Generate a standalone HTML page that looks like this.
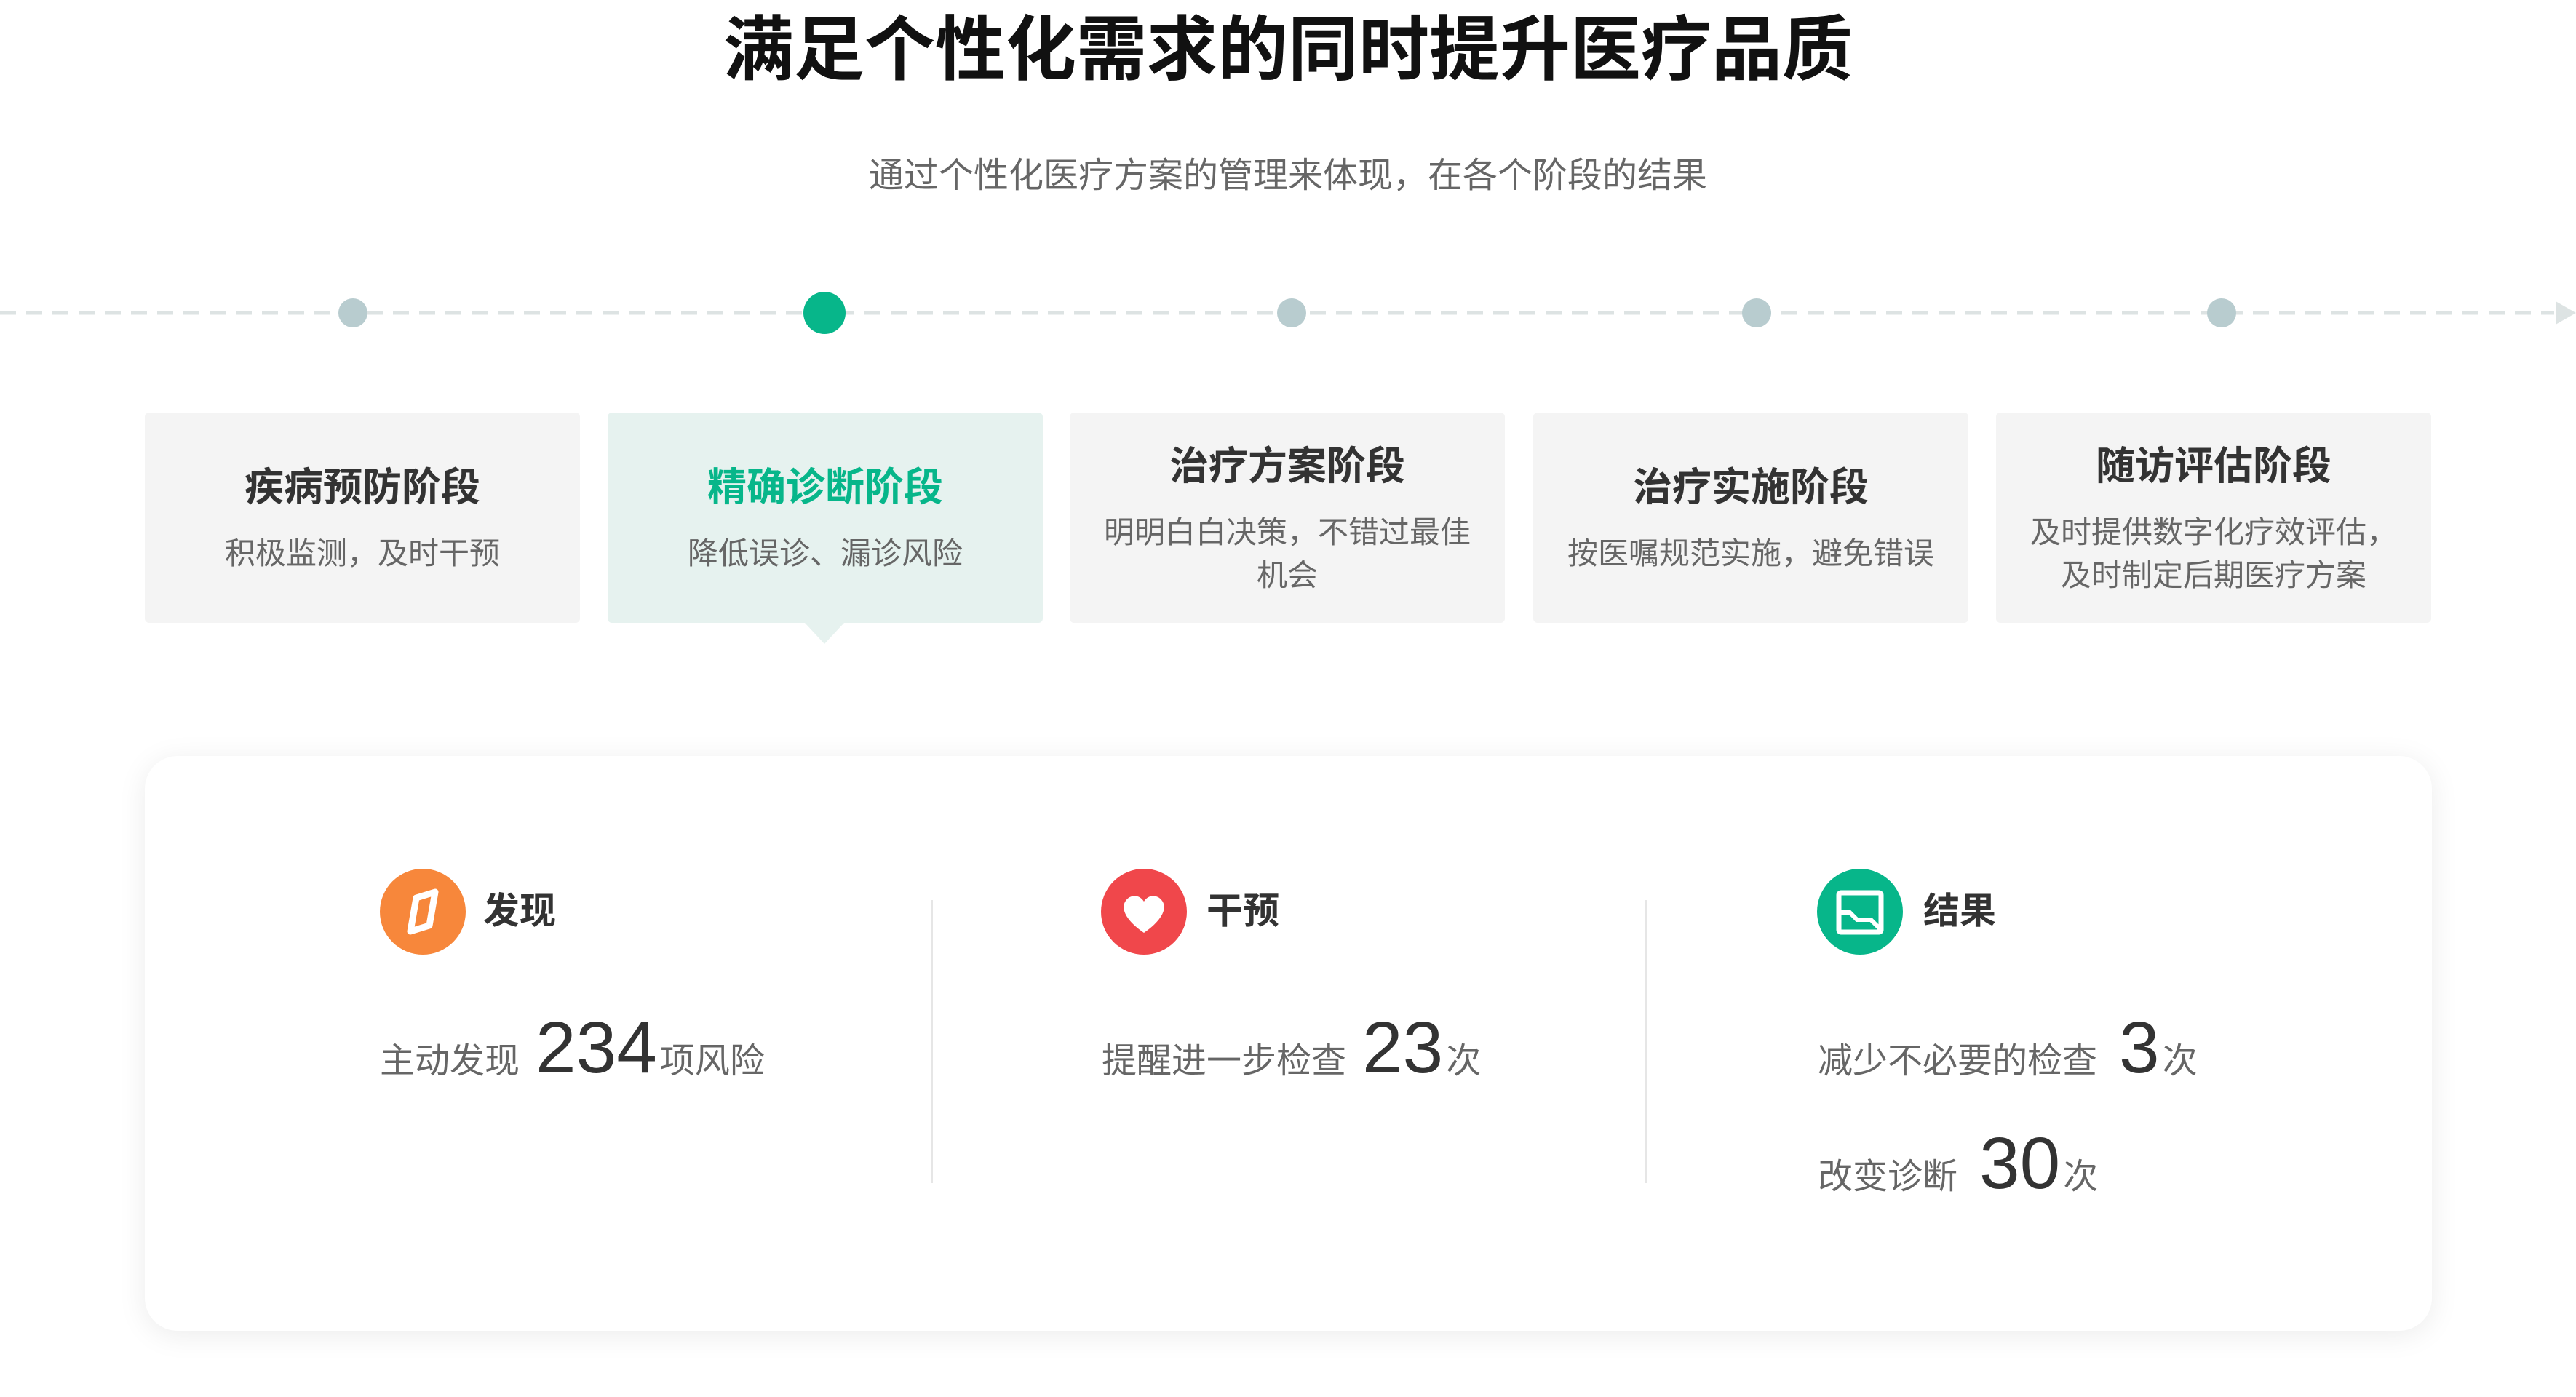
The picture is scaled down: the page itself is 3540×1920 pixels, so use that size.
<!DOCTYPE html>
<html><head><meta charset="utf-8"><style>
*{margin:0;padding:0;box-sizing:border-box}
body{width:3540px;height:1920px;background:#fff;position:relative;overflow:hidden;font-family:"Liberation Sans","Noto Sans CJK SC",sans-serif}
.a{position:absolute}
.title{left:0;width:3540px;top:14px;text-align:center;font-size:97px;font-weight:bold;color:#111;line-height:110px}
.sub{left:0;width:3540px;top:210px;text-align:center;font-size:48px;color:#666;line-height:64px}
.dot{width:40px;height:40px;border-radius:50%;background:#b8cccf;top:410px}
.card{top:567px;width:598px;height:289px;background:#f4f4f4;border-radius:6px;text-align:center}
.card h3{font-size:54px;color:#333;font-weight:bold;line-height:60px}
.card p{font-size:42px;color:#666;line-height:59px;margin-top:31px}
.panel{left:199px;top:1039px;width:3143px;height:790px;background:#fff;border-radius:45px;box-shadow:0 6px 40px rgba(0,0,0,0.08)}
.ic{width:118px;height:118px;border-radius:50%;top:1194px}
.lab{top:1222px;font-size:50px;font-weight:bold;color:#333;line-height:60px}
.div{top:1237px;width:3px;height:389px;background:#e6e6e6}
.stat{display:flex;align-items:baseline;color:#666;font-size:48px;white-space:nowrap}
.stat b{font-size:100px;color:#333;font-weight:normal;margin:0 4px 0 22px;line-height:100px}
</style></head><body>
<div class="a title">满足个性化需求的同时提升医疗品质</div>
<div class="a sub">通过个性化医疗方案的管理来体现，在各个阶段的结果</div>
<svg class="a" style="left:0;top:410px" width="3540" height="40"><line x1="0" y1="20" x2="3510" y2="20" stroke="#dde3e3" stroke-width="5" stroke-dasharray="22 14"/><path d="M3512 4 L3540 20 L3512 36 Z" fill="#dde3e3"/></svg>
<div class="a dot" style="left:465px"></div>
<div class="a dot" style="left:1104px;top:401px;width:58px;height:58px;background:#07b68a"></div>
<div class="a dot" style="left:1755px"></div>
<div class="a dot" style="left:2394px"></div>
<div class="a dot" style="left:3033px"></div>

<div class="a card" style="left:199px"><h3 style="margin-top:73px">疾病预防阶段</h3><p>积极监测，及时干预</p></div>
<div class="a card" style="left:835px;background:#e6f2ef"><h3 style="margin-top:73px;color:#07b68a">精确诊断阶段</h3><p>降低误诊、漏诊风险</p></div>
<div class="a" style="left:1106px;top:856px;width:0;height:0;border-top:29px solid #e6f2ef;border-left:27px solid transparent;border-right:27px solid transparent"></div>
<div class="a card" style="left:1470px"><h3 style="margin-top:44px">治疗方案阶段</h3><p>明明白白决策，不错过最佳<br>机会</p></div>
<div class="a card" style="left:2107px"><h3 style="margin-top:73px">治疗实施阶段</h3><p>按医嘱规范实施，避免错误</p></div>
<div class="a card" style="left:2743px"><h3 style="margin-top:44px">随访评估阶段</h3><p>及时提供数字化疗效评估，<br>及时制定后期医疗方案</p></div>

<div class="a panel"></div>
<div class="a div" style="left:1279px"></div>
<div class="a div" style="left:2261px"></div>

<div class="a ic" style="left:522px;background:#f7873b"><svg width="118" height="118" viewBox="0 0 118 118"><path d="M50 40 L76 32 L68 78 L42 86 Z" fill="none" stroke="#fff" stroke-width="9" stroke-linejoin="round"/></svg></div>
<div class="a lab" style="left:664px">发现</div>
<div class="a ic" style="left:1513px;background:#f0474b"><svg width="118" height="118" viewBox="0 0 118 118"><path d="M59 88 C30 68 28 52 34 44 C40 35 53 35 59 45 C65 35 78 35 84 44 C90 52 88 68 59 88 Z" fill="#fff"/></svg></div>
<div class="a lab" style="left:1658px">干预</div>
<div class="a ic" style="left:2497px;background:#07b68a"><svg width="118" height="118" viewBox="0 0 118 118"><rect x="30" y="33" width="58" height="54" rx="3" fill="none" stroke="#fff" stroke-width="7"/><path d="M32 60 L45 60 L55 70 L74 70 L86 82" fill="none" stroke="#fff" stroke-width="6"/></svg></div>
<div class="a lab" style="left:2643px">结果</div>

<div class="a stat" style="left:522px;top:1390px">主动发现<b>234</b>项风险</div>
<div class="a stat" style="left:1514px;top:1390px">提醒进一步检查<b>23</b>次</div>
<div class="a stat" style="left:2498px;top:1390px">减少不必要的检查<b style="margin-left:30px">3</b>次</div>
<div class="a stat" style="left:2498px;top:1549px">改变诊断<b style="margin-left:30px">30</b>次</div>
</body></html>
